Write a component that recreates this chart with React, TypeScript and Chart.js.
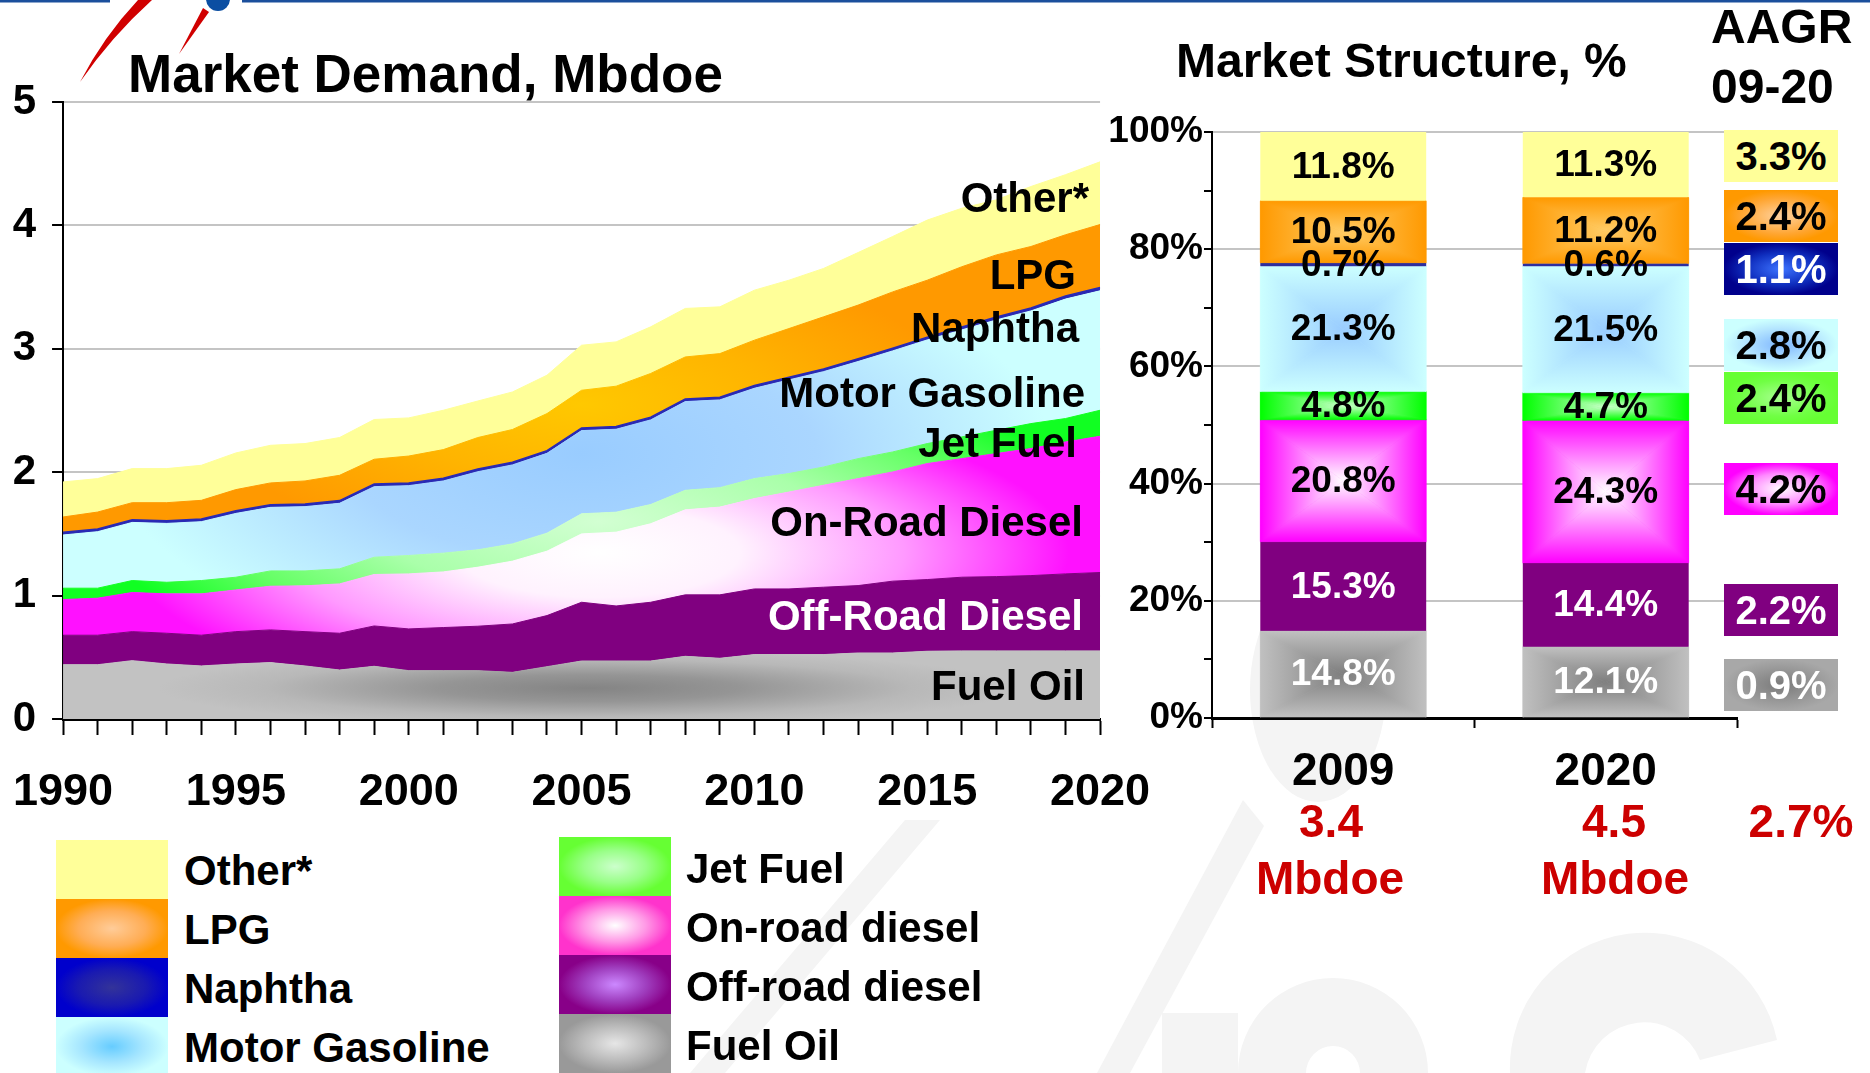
import React, { useEffect, useRef } from 'react';
import { Chart, registerables } from 'chart.js';

Chart.register(...registerables);

const FONT = '"Liberation Sans", Arial, Helvetica, sans-serif';

// ---------- DATA ----------
const years = ['1990','1991','1992','1993','1994','1995','1996','1997','1998','1999','2000','2001','2002','2003','2004','2005','2006','2007','2008','2009','2010','2011','2012','2013','2014','2015','2016','2017','2018','2019','2020'];
const yearTickLabels = ['1990','1995','2000','2005','2010','2015','2020'];

const fuelOil = [0.44,0.44,0.473,0.446,0.43,0.446,0.457,0.43,0.397,0.427,0.392,0.392,0.392,0.378,0.424,0.47,0.47,0.47,0.508,0.492,0.522,0.522,0.522,0.535,0.535,0.549,0.552,0.552,0.552,0.552,0.552];
const offRoadDiesel = [0.239,0.239,0.235,0.249,0.249,0.262,0.265,0.278,0.298,0.327,0.338,0.349,0.36,0.392,0.414,0.476,0.446,0.476,0.498,0.514,0.532,0.532,0.546,0.546,0.582,0.581,0.597,0.602,0.61,0.624,0.635];
const onRoadDiesel = [0.289,0.3,0.317,0.319,0.335,0.338,0.354,0.371,0.4,0.417,0.446,0.451,0.478,0.509,0.522,0.554,0.598,0.636,0.689,0.711,0.732,0.785,0.826,0.867,0.885,0.94,0.961,0.997,1.03,1.069,1.104];
const jetFuel = [0.092,0.081,0.097,0.094,0.108,0.103,0.124,0.121,0.122,0.14,0.149,0.152,0.141,0.14,0.146,0.163,0.162,0.156,0.158,0.158,0.162,0.15,0.148,0.162,0.162,0.162,0.176,0.189,0.202,0.19,0.211];
const motorGasoline = [0.431,0.458,0.471,0.477,0.477,0.517,0.515,0.521,0.531,0.572,0.566,0.585,0.633,0.64,0.647,0.674,0.672,0.686,0.719,0.711,0.732,0.759,0.773,0.787,0.819,0.84,0.867,0.894,0.913,0.968,0.968];
const naphtha = [0.022,0.022,0.022,0.022,0.022,0.022,0.022,0.022,0.022,0.022,0.022,0.022,0.022,0.022,0.022,0.022,0.022,0.022,0.022,0.022,0.022,0.022,0.022,0.022,0.022,0.022,0.023,0.024,0.024,0.025,0.026];
const lpg = [0.124,0.137,0.138,0.146,0.151,0.171,0.176,0.186,0.205,0.2,0.218,0.232,0.255,0.265,0.3,0.305,0.327,0.354,0.34,0.353,0.368,0.394,0.422,0.435,0.456,0.462,0.489,0.503,0.498,0.496,0.511];
const other = [0.284,0.271,0.276,0.276,0.284,0.297,0.305,0.303,0.306,0.322,0.309,0.319,0.296,0.304,0.311,0.365,0.359,0.378,0.393,0.379,0.405,0.392,0.392,0.426,0.449,0.487,0.474,0.446,0.486,0.487,0.508];

const structYears = ['2009', '2020'];
const shareFuelOil = [14.8, 12.1];
const shareOffRoad = [15.3, 14.4];
const shareOnRoad = [20.8, 24.3];
const shareJetFuel = [4.8, 4.7];
const shareGasoline = [21.3, 21.5];
const shareNaphtha = [0.7, 0.6];
const shareLpg = [10.5, 11.2];
const shareOther = [11.8, 11.3];

// Other, LPG, Naphtha, Gasoline, Jet, On-road, Off-road, Fuel oil
const aagrValues = ['3.3%', '2.4%', '1.1%', '2.8%', '2.4%', '4.2%', '2.2%', '0.9%'];
const totalDemand = ['3.4', '4.5'];
const totalAagr = '2.7%';
const areaLabels = ['Other*', 'LPG', 'Naphtha', 'Motor Gasoline', 'Jet Fuel', 'On-Road Diesel', 'Off-Road Diesel', 'Fuel Oil'];
const legendLeft = ['Other*', 'LPG', 'Naphtha', 'Motor Gasoline'];
const legendRight = ['Jet Fuel', 'On-road diesel', 'Off-road diesel', 'Fuel Oil'];

// ---------- STYLES / LAYOUT ----------
type Stop = [number, string];
// elliptical gradient painted on an offscreen canvas and used as a pattern
function ellipseFill(center: [number, number], rx: number, ry: number, stops: Stop[], fallback: string) {
  return (c: any) => {
    const chart = c.chart;
    const xs = chart.scales && chart.scales.x;
    const ys = chart.scales && chart.scales.y;
    if (!chart.chartArea || !xs || !ys || !chart.width) return fallback;
    const w = chart.width, h = chart.height;
    const off = document.createElement('canvas');
    off.width = w; off.height = h;
    const o = off.getContext('2d') as CanvasRenderingContext2D;
    const px = xs.getPixelForValue(center[0]);
    const py = ys.getPixelForValue(center[1]);
    o.translate(px, py);
    o.scale(rx, ry);
    const g = o.createRadialGradient(0, 0, 0, 0, 0, 1);
    stops.forEach(([s, col]) => g.addColorStop(s, col));
    o.fillStyle = g;
    o.fillRect(-px / rx - 1, -py / ry - 1, w / rx + 2, h / ry + 2);
    return chart.ctx.createPattern(off, 'no-repeat') || fallback;
  };
}

const areaFills: any[] = [
  ellipseFill([15.2, 0.25], 430, 38, [[0, '#848484'], [0.35, '#959595'], [0.75, '#b8b8b8'], [1, '#c2c2c2']], '#b0b0b0'),
  '#800080',
  ellipseFill([15.5, 1.35], 470, 150, [[0, '#ffffff'], [0.3, '#fff2fe'], [0.65, '#ff99ff'], [1, '#ff11ff']], '#ff66ff'),
  ellipseFill([15.5, 1.6], 500, 160, [[0, '#d2ffd2'], [0.45, '#aaffaa'], [0.75, '#66ff66'], [1, '#11ff22']], '#66ff66'),
  ellipseFill([15, 2.15], 470, 210, [[0, '#99ccff'], [0.5, '#aad6ff'], [1, '#ccffff']], '#aaddff'),
  '#2a2ab4',
  ellipseFill([15, 2.55], 380, 150, [[0, '#ffc800'], [0.5, '#ffb400'], [1, '#ff9900']], '#ffaa00'),
  '#ffff99',
];

const barEdge = ['#c0c0c0', '#800080', '#ff00ff', '#00ff00', '#ccffff', '#2e2e9e', '#ff9900', '#ffff99'];
const barCenter: (string | null)[] = ['#7e7e7e', null, '#ffffff', '#ccffcc', '#99ccff', null, '#ffcc66', null];
const barLabelColor = ['#ffffff', '#ffffff', '#000', '#000', '#000', '#000', '#000', '#000'];

function boxFill(ctx: CanvasRenderingContext2D, x: number, y: number, w: number, h: number, edge: string, center: string) {
  const cx = x + w / 2, cy = y + h / 2;
  const tris: [number, number, number, number, number, number][] = [
    [x, y, x + w, y, cx, y],
    [x + w, y, x + w, y + h, x + w, cy],
    [x + w, y + h, x, y + h, cx, y + h],
    [x, y + h, x, y, x, cy],
  ];
  tris.forEach(([ax, ay, bx, by, mx, my]) => {
    const g = ctx.createLinearGradient(cx, cy, mx, my);
    g.addColorStop(0, center);
    g.addColorStop(1, edge);
    ctx.fillStyle = g;
    ctx.strokeStyle = g;
    ctx.lineWidth = 0.6;
    ctx.beginPath();
    ctx.moveTo(cx, cy);
    ctx.lineTo(ax, ay);
    ctx.lineTo(bx, by);
    ctx.closePath();
    ctx.fill();
    ctx.stroke();
  });
}

const barDecor = {
  id: 'barDecor',
  afterDatasetsDraw(chart: any) {
    const ctx = chart.ctx as CanvasRenderingContext2D;
    const ca = chart.chartArea;
    ctx.save();
    ctx.beginPath();
    ctx.rect(ca.left, ca.top - 2, ca.right - ca.left, ca.bottom - ca.top + 2);
    ctx.clip();
    chart.data.datasets.forEach((ds: any, di: number) => {
      const meta = chart.getDatasetMeta(di);
      const c = barCenter[di];
      if (!c) return;
      meta.data.forEach((el: any) => {
        const p = el.getProps(['x', 'y', 'base', 'width'], true);
        boxFill(ctx, p.x - p.width / 2, Math.min(p.y, p.base), p.width, Math.abs(p.base - p.y), barEdge[di], c);
      });
    });
    ctx.restore();
    ctx.save();
    ctx.font = `bold 37px ${FONT}`;
    ctx.textAlign = 'center';
    ctx.textBaseline = 'middle';
    chart.data.datasets.forEach((ds: any, di: number) => {
      const meta = chart.getDatasetMeta(di);
      meta.data.forEach((el: any, i: number) => {
        const p = el.getProps(['x', 'y', 'base'], true);
        ctx.fillStyle = barLabelColor[di];
        ctx.fillText(`${ds.data[i].toFixed(1)}%`, p.x, (p.y + p.base) / 2 + 1);
      });
    });
    ctx.restore();
  },
};

const areaLabelPos: [number, number][] = [[1089, 198], [1076, 275], [1079, 328], [1085, 393], [1077, 443], [1083, 522], [1083, 616], [1085, 686]];
const areaLabelColor = ['#000', '#000', '#000', '#000', '#000', '#000', '#fff', '#000'];

const aagrTops = [130, 190, 243, 319, 372, 463, 584, 659];
const aagrBg = [
  '#ffff99',
  'radial-gradient(farthest-side, #ffd2a0 0%, #ffa530 70%, #ff9900 100%)',
  'radial-gradient(farthest-side, #3d73ff 0%, #1030c0 60%, #00008c 100%)',
  'radial-gradient(farthest-side, #7fb6ff 0%, #b5e6ff 65%, #ccffff 100%)',
  'radial-gradient(farthest-side, #a8ff90 0%, #70ff44 70%, #66ff33 100%)',
  'radial-gradient(farthest-side, #ffffff 0%, #ff88ff 60%, #ff00ff 100%)',
  '#800080',
  'radial-gradient(farthest-side, #7a7a7a 0%, #999999 65%, #a8a8a8 100%)',
];
const aagrColor = ['#000', '#000', '#fff', '#000', '#000', '#000', '#fff', '#fff'];

const legendLeftTops = [840, 899, 958, 1017];
const legendRightTops = [837, 896, 955, 1014];
const legendLeftBg = [
  '#ffff99',
  'radial-gradient(farthest-side, #ffcc99 0%, #ffad55 60%, #ff9900 100%)',
  'radial-gradient(farthest-side, #333399 0%, #1a1ab0 60%, #0000cc 100%)',
  'radial-gradient(farthest-side, #66ccff 0%, #a6e6ff 55%, #ccffff 100%)',
];
const legendRightBg = [
  'radial-gradient(farthest-side, #ccffcc 0%, #99ff88 55%, #66ff33 100%)',
  'radial-gradient(farthest-side, #ffffff 0%, #ff99e6 55%, #ff33cc 100%)',
  'radial-gradient(farthest-side, #cc88ff 0%, #a040c0 55%, #880088 100%)',
  'radial-gradient(farthest-side, #e6e6e6 0%, #bdbdbd 55%, #999999 100%)',
];

function Txt(props: { x: number; cy: number; fs: number; align?: 'left' | 'right' | 'center'; color?: string; children: any }) {
  const { x, cy, fs, align = 'left', color = '#000', children } = props;
  const style: any = {
    position: 'absolute', top: cy - 0.59 * fs, fontSize: fs, lineHeight: `${fs * 1.2}px`, color,
    whiteSpace: 'nowrap', fontWeight: 700, fontFamily: FONT,
  };
  if (align === 'left') style.left = x;
  else if (align === 'right') { style.left = x - 1000; style.width = 1000; style.textAlign = 'right'; }
  else { style.left = x - 500; style.width = 1000; style.textAlign = 'center'; }
  return <div style={style}>{children}</div>;
}

// place a chart's plot area at the wanted page x-range
function alignPlot(chart: any, canvas: HTMLCanvasElement, pageLeft: number, pageRight: number) {
  const ca = chart.chartArea;
  const dx = pageLeft - ca.left;
  canvas.style.left = `${dx}px`;
  const extra = dx + ca.right - pageRight;
  if (Math.abs(extra) > 0.5) {
    chart.options.layout.padding.right += extra;
    chart.update();
  }
}

export default function App() {
  const leftRef = useRef<HTMLCanvasElement>(null);
  const rightRef = useRef<HTMLCanvasElement>(null);

  useEffect(() => {
    Chart.defaults.font.family = FONT;
    const series = [fuelOil, offRoadDiesel, onRoadDiesel, jetFuel, motorGasoline, naphtha, lpg, other];
    const left = new Chart(leftRef.current as HTMLCanvasElement, {
      type: 'line',
      data: {
        labels: years,
        datasets: series.map((d, i) => ({
          label: areaLabels[7 - i],
          data: d,
          fill: i === 0 ? 'origin' : '-1',
          backgroundColor: areaFills[i],
          borderColor: areaFills[i],
          borderWidth: i === 5 ? 1.5 : 1,
          pointRadius: 0,
          tension: 0,
        })),
      },
      options: {
        responsive: false,
        animation: false,
        layout: { padding: { top: 102, right: 100, left: 0, bottom: 0 } },
        plugins: { legend: { display: false }, tooltip: { enabled: false } },
        scales: {
          x: {
            type: 'category',
            offset: false,
            border: { color: '#000', width: 3 },
            grid: { drawOnChartArea: false, tickLength: 16, tickColor: '#000', tickWidth: 2 },
            ticks: {
              autoSkip: false, maxRotation: 0, minRotation: 0, padding: 31, color: '#000',
              font: { size: 45, weight: 'bold' },
              callback: (v: any, i: number) => (yearTickLabels.includes(years[i]) ? years[i] : ''),
            },
            afterFit: (s: any) => { s.height = 121; },
          },
          y: {
            stacked: true, min: 0, max: 5,
            border: { color: '#000', width: 2 },
            grid: { color: '#c4c4c4', lineWidth: 2, tickLength: 11, tickColor: '#000', tickWidth: 2 },
            ticks: { stepSize: 1, padding: 16, color: '#000', font: { size: 42, weight: 'bold' } },
            afterFit: (s: any) => { s.width = 63; },
          },
        },
      } as any,
    });
    alignPlot(left, leftRef.current as HTMLCanvasElement, 63, 1100);

    const shares = [shareFuelOil, shareOffRoad, shareOnRoad, shareJetFuel, shareGasoline, shareNaphtha, shareLpg, shareOther];
    const right = new Chart(rightRef.current as HTMLCanvasElement, {
      type: 'bar',
      data: {
        labels: structYears,
        datasets: shares.map((d, i) => ({
          label: areaLabels[7 - i],
          data: d,
          backgroundColor: barEdge[i],
          borderWidth: 0,
          barPercentage: 0.632,
          categoryPercentage: 1,
        })),
      },
      options: {
        responsive: false,
        animation: false,
        layout: { padding: { top: 132, right: 133, left: 0, bottom: 0 } },
        plugins: { legend: { display: false }, tooltip: { enabled: false } },
        scales: {
          x: {
            stacked: true,
            border: { color: '#000', width: 3 },
            grid: { drawOnChartArea: false, tickLength: 10, tickColor: '#000', tickWidth: 2, offset: true },
            ticks: { padding: 17, color: '#000', font: { size: 46, weight: 'bold' } },
            afterFit: (s: any) => { s.height = 122; },
          },
          y: {
            stacked: true, min: 0, max: 100,
            border: { color: '#000', width: 2 },
            grid: {
              color: (c: any) => (c.tick && c.tick.value > 0 && c.tick.value % 20 === 0 ? '#c4c4c4' : 'rgba(0,0,0,0)'),
              lineWidth: 2, tickLength: 8, tickColor: '#000', tickWidth: 2,
            },
            ticks: {
              stepSize: 10, autoSkip: false, padding: 1, color: '#000', font: { size: 37, weight: 'bold' },
              callback: (v: any) => (v % 20 === 0 ? `${v}%` : ''),
            },
            afterFit: (s: any) => { s.width = 112; },
          },
        },
      } as any,
      plugins: [barDecor],
    });
    alignPlot(right, rightRef.current as HTMLCanvasElement, 1212, 1737);

    return () => { left.destroy(); right.destroy(); };
  }, []);

  const wm = '#f4f4f4';
  return (
    <div style={{ position: 'absolute', left: 0, top: 0, width: 1870, height: 1073, overflow: 'hidden', background: '#fff', fontFamily: FONT }}>
      <svg width={1870} height={1073} style={{ position: 'absolute', left: 0, top: 0 }}>
        {/* faint watermark */}
        <polygon points="1243,800 1264,826 1130,1073 1097,1073" fill={wm} />
        <ellipse cx={1318} cy={690} rx={68} ry={112} fill={wm} />
        <rect x={1162} y={1013} width={76} height={60} fill={wm} />
        <path d="M1238,1073 A95,95 0 0 1 1428,1073 L1360,1073 A27,27 0 0 0 1306,1073 Z" fill={wm} />
        <path d="M1510,1073 A135,135 0 0 1 1777,1040 L1700,1060 A60,60 0 0 0 1585,1073 Z" fill={wm} />
        <polygon points="905,820 940,820 725,1073 690,1073" fill={wm} />
        {/* logo bits */}
        <rect x={0} y={0} width={110} height={2.5} fill="#1b4f9c" />
        <rect x={242} y={0} width={1628} height={2.5} fill="#1b4f9c" />
        <path d="M80,82 Q104,36 138,0 L152,0 Q112,36 80,82 Z" fill="#d00000" />
        <path d="M179,54 L203,8 L209,12 Z" fill="#d00000" />
        <circle cx={218} cy={-1} r={12} fill="#0b4ea2" />
      </svg>
      <canvas ref={leftRef} width={1240} height={840} style={{ position: 'absolute', left: 0, top: 0 }} />
      <canvas ref={rightRef} width={770} height={840} style={{ position: 'absolute', left: 1100, top: 0 }} />

      <Txt x={128} cy={73} fs={53}>Market Demand, Mbdoe</Txt>
      <Txt x={1176} cy={60} fs={48}>Market Structure, %</Txt>
      <Txt x={1711} cy={26} fs={48}>AAGR</Txt>
      <Txt x={1711} cy={86} fs={48}>09-20</Txt>

      {areaLabels.map((t, i) => (
        <Txt key={t} x={areaLabelPos[i][0]} cy={areaLabelPos[i][1]} fs={42} align="right" color={areaLabelColor[i]}>{t}</Txt>
      ))}

      {aagrValues.map((v, i) => (
        <div key={i} style={{
          position: 'absolute', left: 1724, top: aagrTops[i], width: 114, height: 52, background: aagrBg[i],
          color: aagrColor[i], fontFamily: FONT, fontWeight: 700, fontSize: 40, lineHeight: '52px', textAlign: 'center',
        }}>{v}</div>
      ))}

      <Txt x={1331} cy={821} fs={46} align="center" color="#cc0000">{totalDemand[0]}</Txt>
      <Txt x={1330} cy={878} fs={46} align="center" color="#cc0000">Mbdoe</Txt>
      <Txt x={1614} cy={821} fs={46} align="center" color="#cc0000">{totalDemand[1]}</Txt>
      <Txt x={1615} cy={878} fs={46} align="center" color="#cc0000">Mbdoe</Txt>
      <Txt x={1801} cy={821} fs={46} align="center" color="#cc0000">{totalAagr}</Txt>

      {legendLeft.map((t, i) => (
        <React.Fragment key={t}>
          <div style={{ position: 'absolute', left: 56, top: legendLeftTops[i], width: 112, height: 59, background: legendLeftBg[i] }} />
          <Txt x={184} cy={legendLeftTops[i] + 31} fs={42}>{t}</Txt>
        </React.Fragment>
      ))}
      {legendRight.map((t, i) => (
        <React.Fragment key={t}>
          <div style={{ position: 'absolute', left: 559, top: legendRightTops[i], width: 112, height: 59, background: legendRightBg[i] }} />
          <Txt x={686} cy={legendRightTops[i] + 32} fs={42}>{t}</Txt>
        </React.Fragment>
      ))}
    </div>
  );
}
